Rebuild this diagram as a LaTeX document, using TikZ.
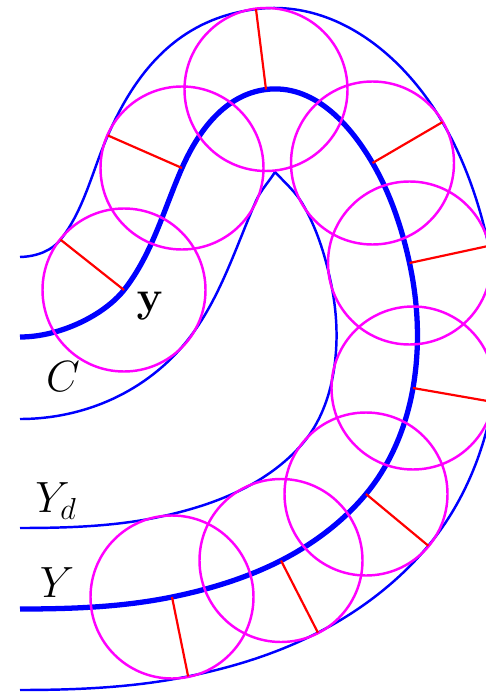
\documentclass[tikz,border=0pt]{standalone}
\usepackage{amsmath,amssymb}
\usetikzlibrary{calc,positioning}
\definecolor{ballpink}{RGB}{255,0,255}
\definecolor{curveblue}{RGB}{0,0,255}
\definecolor{radred}{RGB}{255,0,0}

\begin{document}
\begin{tikzpicture}[
  x=0.02cm, y=-0.02cm,
  ycurve/.style={curveblue, line width=3pt},
  bound/.style={curveblue, line width=1.4pt},
  ball/.style={ballpink, line width=1.4pt},
  radline/.style={radred, line width=1.25pt},
  lbl/.style={inner sep=0pt, font=\fontsize{27}{30}\selectfont}
]
\useasboundingbox (0,0) rectangle (486,692);
\clip (0,0) rectangle (486,692);

% centres on Y; t = outer touching point, s = inner one
\foreach \cx/\cy/\a [count=\i] in {172/597/78.5, 281/560.5/62.9, 366/494/39.7, 413/388/9.9, 409.5/263/-12.2,
    372.5/163/-30.3, 266/89.5/-97.1, 182/168/-156.3, 124/290/-141.6}{
  \coordinate (c\i) at (\cx,\cy);
  \coordinate (t\i) at ($(\cx,\cy)+(\a:81)$);
  \coordinate (s\i) at ($(\cx,\cy)-(\a:81)$);
}
\coordinate (yend) at (20,609);
\coordinate (ystart) at (20,337);
\coordinate (cusp) at (275,172);

% the curve Y
\draw[ycurve] (yend) .. controls (71,609) and (122,607.2) .. (c1)
  .. controls (209.2,589.4) and (247.2,577.8) .. (c2)
  .. controls (313,544.1) and (343,521.7) .. (c3)
  .. controls (390.9,464) and (406.3,426.4) .. (c4)
  .. controls (420.2,346.6) and (418.4,304) .. (c5)
  .. controls (402,228.3) and (390.4,193.6) .. (c6)
  .. controls (348.8,122.4) and (312.6,83.7) .. (c7)
  .. controls (225.3,94.6) and (198.5,130.4) .. (c8)
  .. controls (163.9,209.2) and (151.9,254.7) .. (c9)
  .. controls (104.1,315.1) and (60,337) .. (ystart);

% outer boundary
\draw[bound] (20,257) .. controls (38,256.5) and (52.4,249.9) .. (t9)
  .. controls (84.1,209.9) and (92.5,170.2) .. (t8)
  .. controls (137.9,66.7) and (181.6,18.4) .. (t7)
  .. controls (334.4,-0.7) and (402.5,53.9) .. (t6)
  .. controls (464.6,160.1) and (479.3,202.9) .. (t5)
  .. controls (499.6,296.7) and (501.7,350.7) .. (t4)
  .. controls (483.7,454.1) and (462.2,505) .. (t3)
  .. controls (398.3,581.9) and (359.7,611.2) .. (t2)
  .. controls (277,653.6) and (233.3,667.2) .. (t1)
  .. controls (133.3,687.6) and (76,690) .. (20,690);

% inner boundary, meeting at the cusp
\draw[bound] (20,419) .. controls (85,419) and (147.1,391.3) .. (s9)
  .. controls (219.8,299.5) and (235.3,248.2) .. (s8)
  .. controls (260.6,190.5) and (269.2,181.4) .. (cusp)
  .. controls (284.5,182.2) and (295.5,191.8) .. (s6)
  .. controls (316.2,227.2) and (324.7,253.7) .. (s5)
  .. controls (337.2,311.4) and (338.7,342.6) .. (s4)
  .. controls (328.9,398.7) and (319.7,423) .. (s3)
  .. controls (287.7,461.4) and (266.4,477) .. (s2)
  .. controls (216.5,502.5) and (186.2,511.4) .. (s1)
  .. controls (111.7,526.6) and (65,528) .. (20,528);

% balls and radii
\foreach \i in {1,...,9}{
  \draw[ball] (c\i) circle[radius=81.5];
  \draw[radline] (c\i) -- (t\i);
}

\node[lbl, below right=1pt and 7pt of c9, anchor=north west] (ypt) {$\mathbf{y}$};
\node[lbl] (lblc) at (63,377) {$C$};
\node[lbl] (lblyd) at (56,501) {$Y_d$};
\node[lbl] (lbly) at (57,583) {$Y$};
\end{tikzpicture}
\end{document}
